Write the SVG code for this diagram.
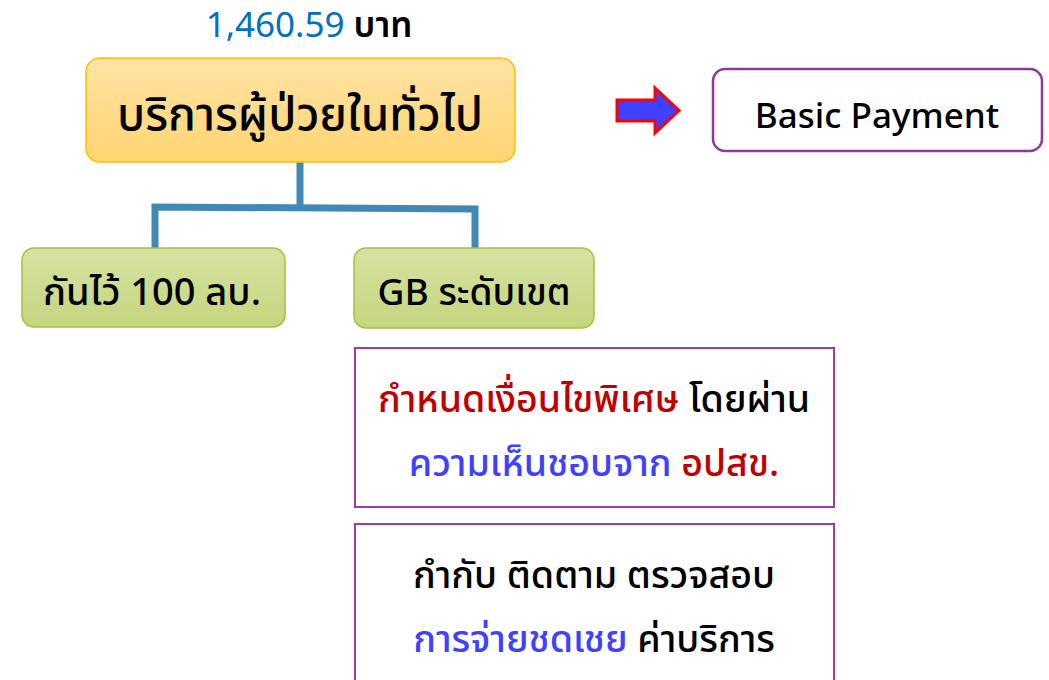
<svg xmlns="http://www.w3.org/2000/svg" width="1049" height="680" viewBox="0 0 1049 680">
<style>
text{font-family:"Noto Sans Thai","Noto Sans","DejaVu Sans",sans-serif;text-anchor:middle;font-weight:500;}
.big{font-size:46px;}
.note{font-size:37.5px;}
.red{fill:#C00000;}
.blue{fill:#4040FF;}
.blk{fill:#000;}
.box{fill:#fff;stroke:#9B3FA0;stroke-width:2;}
</style>
<defs>
<linearGradient id="gY" x1="0" y1="0" x2="0" y2="1"><stop offset="0" stop-color="#FFE3A6"/><stop offset="1" stop-color="#FFD572"/></linearGradient>
<linearGradient id="gG" x1="0" y1="0" x2="0" y2="1"><stop offset="0" stop-color="#D7E2A2"/><stop offset="1" stop-color="#C4D57E"/></linearGradient>
</defs>
<text x="309" y="37" font-size="35"><tspan fill="#0070C0" font-weight="400">1,460.59</tspan><tspan fill="#000" font-weight="600"> บาท</tspan></text>
<g id="connectors" fill="none" stroke="#4189B4" stroke-width="7">
<path d="M300 162 V206"/>
<path d="M155 248 V207 L475 209 V248"/>
</g>
<g id="main">
<rect x="86" y="58" width="429" height="104" rx="14" fill="url(#gY)" stroke="#FFC000" stroke-width="1.5"/>
<text x="300" y="130" class="big">บริการผู้ป่วยในทั่วไป</text>
</g>
<g id="left">
<rect x="22" y="248" width="263" height="79" rx="12" fill="url(#gG)" stroke="#A6BF3A" stroke-width="1.5"/>
<text x="152" y="305" font-size="38">กันไว้ 100 ลบ.</text>
</g>
<g id="right">
<rect x="354" y="248" width="240" height="80" rx="12" fill="url(#gG)" stroke="#A6BF3A" stroke-width="1.5"/>
<text x="474" y="305" font-size="37">GB ระดับเขต</text>
</g>
<g id="arrow">
<path d="M617 100 H655 V88 L679 110.5 L655 133 V121 H617 Z" fill="#4040FF" stroke="#FF0000" stroke-width="3" stroke-linejoin="miter"/>
</g>
<g id="basic">
<rect x="713" y="69" width="329" height="82" rx="12" fill="#fff" stroke="#8E3A9A" stroke-width="2.5"/>
<text x="877" y="128" font-size="35" font-weight="400">Basic Payment</text>
</g>
<g id="cond">
<rect x="355" y="348" width="479" height="159" class="box"/>
<text x="594" y="412" class="note"><tspan class="red">กำหนดเงื่อนไขพิเศษ</tspan><tspan class="blk"> โดยผ่าน</tspan></text>
<text x="594" y="476" class="note"><tspan class="blue">ความเห็นชอบจาก</tspan><tspan class="red"> อปสข.</tspan></text>
</g>
<g id="monitor">
<rect x="355" y="524" width="479" height="170" class="box"/>
<text x="594" y="588" class="note blk">กำกับ ติดตาม ตรวจสอบ</text>
<text x="594" y="652" class="note"><tspan class="blue">การจ่ายชดเชย</tspan><tspan class="blk"> ค่าบริการ</tspan></text>
</g>
</svg>
